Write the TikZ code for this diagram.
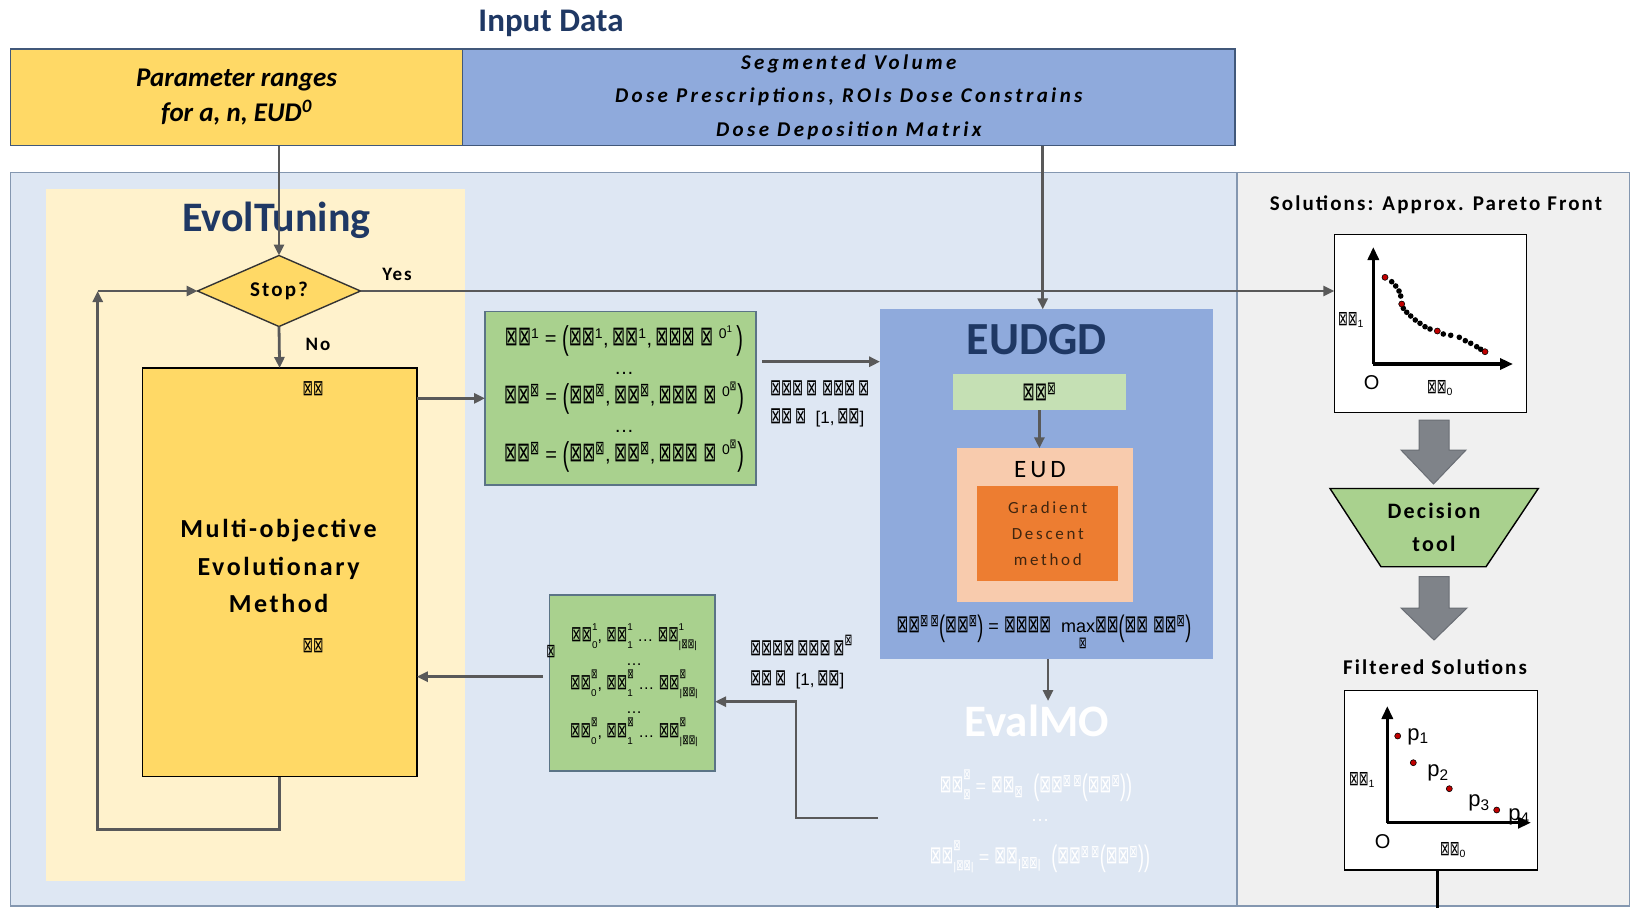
\documentclass[tikz,border=0pt]{standalone}
\usepackage{fontspec}
\setmainfont{Carlito}
\newfontfamily\symf{DejaVu Sans}
\newfontfamily\frm{Liberation Sans}
\newfontfamily\wide[LetterSpace=10]{Carlito}
\newfontfamily\wider[LetterSpace=16]{Carlito}
\usetikzlibrary{arrows.meta,shapes.geometric}

\newcommand\fs[2]{\fontsize{#1}{#2}\selectfont}
% placeholder glyph used in the formulas
\newcommand\bx{\scalebox{0.78}[1.35]{\symf ⊠}}
\newcommand\sps[1]{\textsuperscript{#1}}
\newcommand\sbs[1]{\textsubscript{#1}}
\newcommand\bigp[1]{\raisebox{-0.2em}{\scalebox{1}[1.65]{#1}}}
\makeatletter
\newcommand\smallr{\fontsize{\strip@pt\dimexpr0.62\dimexpr\f@size pt\relax\relax}{0}\selectfont}
\makeatother
% stacked superscript and subscript
\newcommand\supsub[2]{\begingroup
  \setbox0\hbox{\raisebox{0.7em}{\smallr #1}}%
  \setbox2\hbox{\raisebox{-0.4em}{\smallr #2}}%
  \ifdim\wd0>\wd2 \rlap{\box2}\box0\else\rlap{\box0}\box2\fi\endgroup}

\definecolor{gold}{HTML}{FFD966}
\definecolor{inblue}{HTML}{8FAADC}
\definecolor{panelblue}{HTML}{DEE7F3}
\definecolor{paneledge}{HTML}{8497B0}
\definecolor{paleyellow}{HTML}{FFF2CC}
\definecolor{panelgray}{HTML}{F0F0F0}
\definecolor{midgreen}{HTML}{A9D18E}
\definecolor{greenedge}{HTML}{5B7486}
\definecolor{palegreen}{HTML}{C5E0B4}
\definecolor{peach}{HTML}{F8CBAD}
\definecolor{orangebox}{HTML}{ED7D31}
\definecolor{navy}{HTML}{1F3864}
\definecolor{wire}{HTML}{595959}
\definecolor{blockgray}{HTML}{7F8389}
\definecolor{blockedge}{HTML}{6A6E75}
\definecolor{boxedge}{HTML}{41587A}
\definecolor{darkbrown}{HTML}{40250F}
\definecolor{dotred}{HTML}{C00000}

\begin{document}
\begin{tikzpicture}[x=1pt,y=-1pt,
  every node/.style={inner sep=0pt, outer sep=0pt},
  panel/.style={rectangle, inner sep=0pt},
  link/.style={draw=wire, line width=2.8pt, -{Triangle[length=11pt,width=10pt]}},
  eqn/.style={font=\frm\fs{19}{29}, align=center},
  axis/.style={line width=3.4pt, -{Triangle[length=13pt,width=11pt]}},
  blockarrow/.style={fill=blockgray, draw=blockedge, line width=1pt},
  dot/.style={fill=black},
  reddot/.style={fill=dotred, draw=black, line width=0.6pt}]
\useasboundingbox (0,0) rectangle (1630,908);
\fill[white] (0,0) rectangle (1630,908);

% ---------- background panels ----------
\node[panel, fill=panelblue, draw=paneledge, line width=1.2pt,
      minimum width=1226.6pt, minimum height=733.4pt] (work) at (623.7,539.3) {};
\node[panel, fill=panelgray, draw=paneledge, line width=1.2pt,
      minimum width=393pt, minimum height=733.4pt] (results) at (1433.5,539.3) {};
\node[panel, fill=paleyellow, minimum width=419pt, minimum height=692pt] (evolpanel) at (255.5,535) {};

% ---------- input data ----------
\node[font=\bfseries\fs{33}{33}, text=navy] (inputtitle) at (551,23) {Input Data};
\node[panel, fill=gold, draw=boxedge, line width=1.6pt, minimum width=452.2pt, minimum height=96.5pt,
      align=center, font=\bfseries\itshape\fs{27}{35.5}] (ranges) at (236.5,97.25)
      {Parameter ranges\\for a, n, EUD\sps{0}};
\node[panel, fill=inblue, draw=boxedge, line width=1.6pt, minimum width=772.4pt, minimum height=96.5pt,
      align=center, font=\wider\bfseries\itshape\fs{21}{33.7}] (inputs) at (848.8,97.25)
      {Segmented Volume\\Dose Prescriptions, ROIs Dose Constrains\\Dose Deposition Matrix};

% ---------- EvolTuning ----------
\node[font=\bfseries\fs{42}{42}, text=navy] (evoltitle) at (276.5,220) {EvolTuning};
\node[diamond, aspect=2.3, fill=gold, draw=black!80, line width=1.4pt, minimum width=163pt,
      minimum height=71pt, font=\wide\bfseries\fs{21}{21}] (stop) at (279,291) {Stop?};
\node[font=\wide\bfseries\fs{19}{19}] (yes) at (397,274) {Yes};
\node[font=\wide\bfseries\fs{19}{19}] (no) at (318,344) {No};
\node[panel, fill=gold, draw=black, line width=1.5pt, minimum width=274.4pt, minimum height=408.5pt]
      (moem) at (279.6,572.25) {};
\node[align=center, font=\wide\bfseries\fs{26}{37.5}] (moemtext) at (278.6,566)
      {Multi-objective\\Evolutionary\\Method};
\node[font=\frm\fs{16}{16}] (moemtop) at (313,389) {\bx\bx};
\node[font=\frm\fs{16}{16}] (moembot) at (313,645.5) {\bx\bx};

\coordinate (loopcorner) at (97.7,829.5);
\coordinate (looptop) at (97.7,291);
\draw[link] (stop.north |- ranges.south) -- (stop.north);
\draw[link] (stop.south) -- (moem.north);
\draw[link] (moem.south) |- (loopcorner) -- (looptop);
\draw[link] (looptop) -- (stop.west);

% ---------- EUDGD ----------
\node[panel, fill=inblue, minimum width=333.3pt, minimum height=349.7pt] (eudgd) at (1046.7,484.2) {};
\node[font=\bfseries\fs{46}{46}, text=navy] (eudgdtitle) at (1036.7,340) {EUDGD};
\node[panel, fill=palegreen, minimum width=173.3pt, minimum height=36pt, font=\frm\fs{19}{19}]
      (bar) at (1039.4,392) {\bx\bx\sps{\bx}};
\node[panel, fill=peach, minimum width=176pt, minimum height=153.4pt] (eudbox) at (1044.7,525) {};
\node[font=\wider\fs{25}{25}] (eudlabel) at (1040,470) {EUD};
\node[panel, fill=orangebox, minimum width=141pt, minimum height=95pt, align=center,
      font=\wider\fs{17}{26}, text=darkbrown] (gdm) at (1047.8,533.2) {Gradient\\Descent\\method};
\node[eqn, font=\frm\fs{18}{18}] (eudform) at (1044,631.7)
  {\bx\bx\sps{\bx\,\bx}\bigp{(}\bx\bx\sps{\bx}\bigp{)} = \bx\bx\bx\bx\ \ max\raisebox{-0.9em}{\llap{\fs{12}{12}\bx\hspace{0.7em}}}\bx\bx\bigp{(}\bx\bx\ \bx\bx\sps{\bx}\bigp{)}};
\coordinate (eudin) at ([xshift=-4pt]eudgd.north);
\draw[link] (eudin |- inputs.south) -- (eudin);
\draw[link] (bar.south) -- (bar.south |- eudbox.north);

% ---------- candidate parameter sets ----------
\node[panel, fill=midgreen, draw=greenedge, line width=1.2pt, minimum width=271pt, minimum height=173.3pt]
      (green1) at (620.5,398.35) {};
\node[eqn, font=\frm\fs{20}{29}] (g1text) at (624,399)
  {\bx\bx\sps{1} = \bigp{(}\bx\bx\sps{1},\,\bx\bx\sps{1},\,\bx\bx\bx\ \bx\ \sps{0\sps{1}}\,\bigp{)}\\
   \dots\\
   \bx\bx\sps{\bx} = \bigp{(}\bx\bx\sps{\bx},\,\bx\bx\sps{\bx},\,\bx\bx\bx\ \bx\ \sps{0\sps{\bx}}\bigp{)}\\
   \dots\\
   \bx\bx\sps{\bx} = \bigp{(}\bx\bx\sps{\bx},\,\bx\bx\sps{\bx},\,\bx\bx\bx\ \bx\ \sps{0\sps{\bx}}\bigp{)}};
\node[align=left, anchor=west, font=\frm\fs{17}{28}] (g1label) at (770,404)
  {\bx\bx\bx\,\bx\ \bx\bx\bx\,\bx\\\bx\bx\,\bx\ \ [1,\,\bx\bx]};
\draw[link] (moem.east |- green1.west) -- (green1.west);
\coordinate (g1out) at (762,361.7);
\draw[link] (g1out) -- (g1out -| eudgd.west);

% ---------- EvalMO ----------
\node[font=\bfseries\fs{45}{45}, text=white] (evalmo) at (1036.7,721) {EvalMO};
\node[eqn, font=\frm\fs{18}{18}, text=white] (evalf1) at (1036,786)
  {\bx\bx\supsub{\bx}{\bx} = \bx\bx\sbs{\bx}\ \ \bigp{(}\bx\bx\sps{\bx\,\bx}\bigp{(}\bx\bx\sps{\bx}\bigp{)}\bigp{)}};
\node[eqn, text=white] (evaldots) at (1040,820) {\dots};
\node[eqn, font=\frm\fs{18}{18}, text=white] (evalf2) at (1040,857)
  {\bx\bx\supsub{\bx}{|\bx\bx|} = \bx\bx\sbs{|\bx\bx|}\ \ \bigp{(}\bx\bx\sps{\bx\,\bx}\bigp{(}\bx\bx\sps{\bx}\bigp{)}\bigp{)}};
\coordinate (evalin) at (1048,701);
\draw[link] (evalin |- eudgd.south) -- (evalin);

% ---------- objective values ----------
\node[panel, fill=midgreen, draw=greenedge, line width=1.2pt, minimum width=165.7pt, minimum height=176pt]
      (green2) at (632.2,683) {};
\node[align=center, font=\frm\fs{16}{24}] (g2text) at (634,685)
  {\bx\bx\supsub{1}{0}, \bx\bx\supsub{1}{1} \dots\ \bx\bx\supsub{1}{|\bx\bx|}\\
   \dots\\
   \bx\bx\supsub{\bx}{0}, \bx\bx\supsub{\bx}{1} \dots\ \bx\bx\supsub{\bx}{|\bx\bx|}\\
   \dots\\
   \bx\bx\supsub{\bx}{0}, \bx\bx\supsub{\bx}{1} \dots\ \bx\bx\supsub{\bx}{|\bx\bx|}};
\node[font=\frm\fs{14}{14}] (g2mark) at (551,652) {\bx};
\node[align=left, anchor=west, font=\frm\fs{17}{30}] (g2label) at (750,662)
  {\bx\bx\bx\bx\,\bx\bx\bx\,\bx\sps{\raisebox{0.6ex}{\bx}}\\\bx\bx\,\bx\ \ [1,\,\bx\bx]};
\coordinate (retstart) at (878,818);
\coordinate (retcorner) at (796,701.7);
\draw[link] (retstart) -| (retcorner) -- (retcorner -| green2.east);
\coordinate (g2out) at (543,676.7);
\draw[link] (g2out) -- (g2out -| moem.east);

% ---------- results column ----------
\node[font=\wide\bfseries\fs{21}{21}] (soltitle) at (1436,205) {Solutions: Approx. Pareto Front};
\node[panel, fill=white, draw=black, line width=1.5pt, minimum width=192.4pt, minimum height=178pt]
      (plot1) at (1430.5,323.3) {};
\draw[link] (stop.east) -- (stop.east -| plot1.west);
\coordinate (o1) at (1373.3,364);
\draw[axis] (o1) -- (1373.3,247);
\draw[axis] (o1) -- (1513,364);
\foreach \p in {(1391.7,281.7),(1395.7,286),(1399,291),(1400.7,296),(1403.3,308.3),(1406.7,312.3),
                (1410.7,316),(1415.3,320),(1420,323.3),(1425,326.7),(1430,329),(1443.3,334),
                (1450.7,335.3),(1459.3,337.3),(1465.3,340.7),(1470.7,343.3),(1476.7,346.7),(1480.7,349.3)}
  \fill[dot] \p circle (2.8pt);
\foreach \p in {(1385,277.3),(1401.7,304),(1437.3,331),(1485,351.7)}
  \filldraw[reddot] \p circle (3pt);
\node[font=\frm\fs{20}{20}] (o1label) at (1371.7,382.7) {O};
\node[font=\frm\fs{15}{15}] (y1label) at (1351,320) {\bx\bx\sbs{1}};
\node[font=\frm\fs{15}{15}] (x1label) at (1440,388) {\bx\bx\sbs{0}};

% block arrow and decision tool
\filldraw[blockarrow] (1419,420) -- (1449,420) -- (1449,450) -- (1466,450) -- (1433.5,484)
  -- (1401,450) -- (1419,450) -- cycle;
\filldraw[fill=midgreen, draw=black, line width=1.4pt] (1330,488.5) -- (1538.3,488.5)
  -- (1486,566.7) -- (1381,566.7) -- cycle;
\node[align=center, font=\wide\bfseries\fs{22}{33.3}] (decision) at (1434,527.5) {Decision\\tool};
\filldraw[blockarrow] (1419,576.5) -- (1449,576.5) -- (1449,608) -- (1467,608) -- (1434,640)
  -- (1401,608) -- (1419,608) -- cycle;

\node[font=\wide\bfseries\fs{21}{21}] (filtitle) at (1435,666.7) {Filtered Solutions};
\node[panel, fill=white, draw=black, line width=1.5pt, minimum width=193.4pt, minimum height=179.3pt]
      (plot2) at (1441,780.35) {};
\coordinate (o2) at (1387.3,822.7);
\draw[axis] (o2) -- (1387.3,706);
\draw[axis] (o2) -- (1531,822.7);
\foreach \p in {(1397.7,736),(1413.3,762.7),(1449.3,788.7),(1496.7,810)}
  \filldraw[reddot] \p circle (3pt);
\node[font=\frm\fs{22}{22}] (p1) at (1418,736.7) {p\sbs{1}};
\node[font=\frm\fs{22}{22}] (p2) at (1438,773) {p\sbs{2}};
\node[font=\frm\fs{22}{22}] (p3) at (1479,803) {p\sbs{3}};
\node[font=\frm\fs{22}{22}] (p4) at (1519,816.7) {p\sbs{4}};
\node[font=\frm\fs{20}{20}] (o2label) at (1382.7,841.7) {O};
\node[font=\frm\fs{15}{15}] (y2label) at (1362,780) {\bx\bx\sbs{1}};
\node[font=\frm\fs{15}{15}] (x2label) at (1453,850) {\bx\bx\sbs{0}};
\coordinate (exit) at (1437.5,908);
\draw[black, line width=3pt] (exit |- plot2.south) -- (exit);
\end{tikzpicture}
\end{document}
